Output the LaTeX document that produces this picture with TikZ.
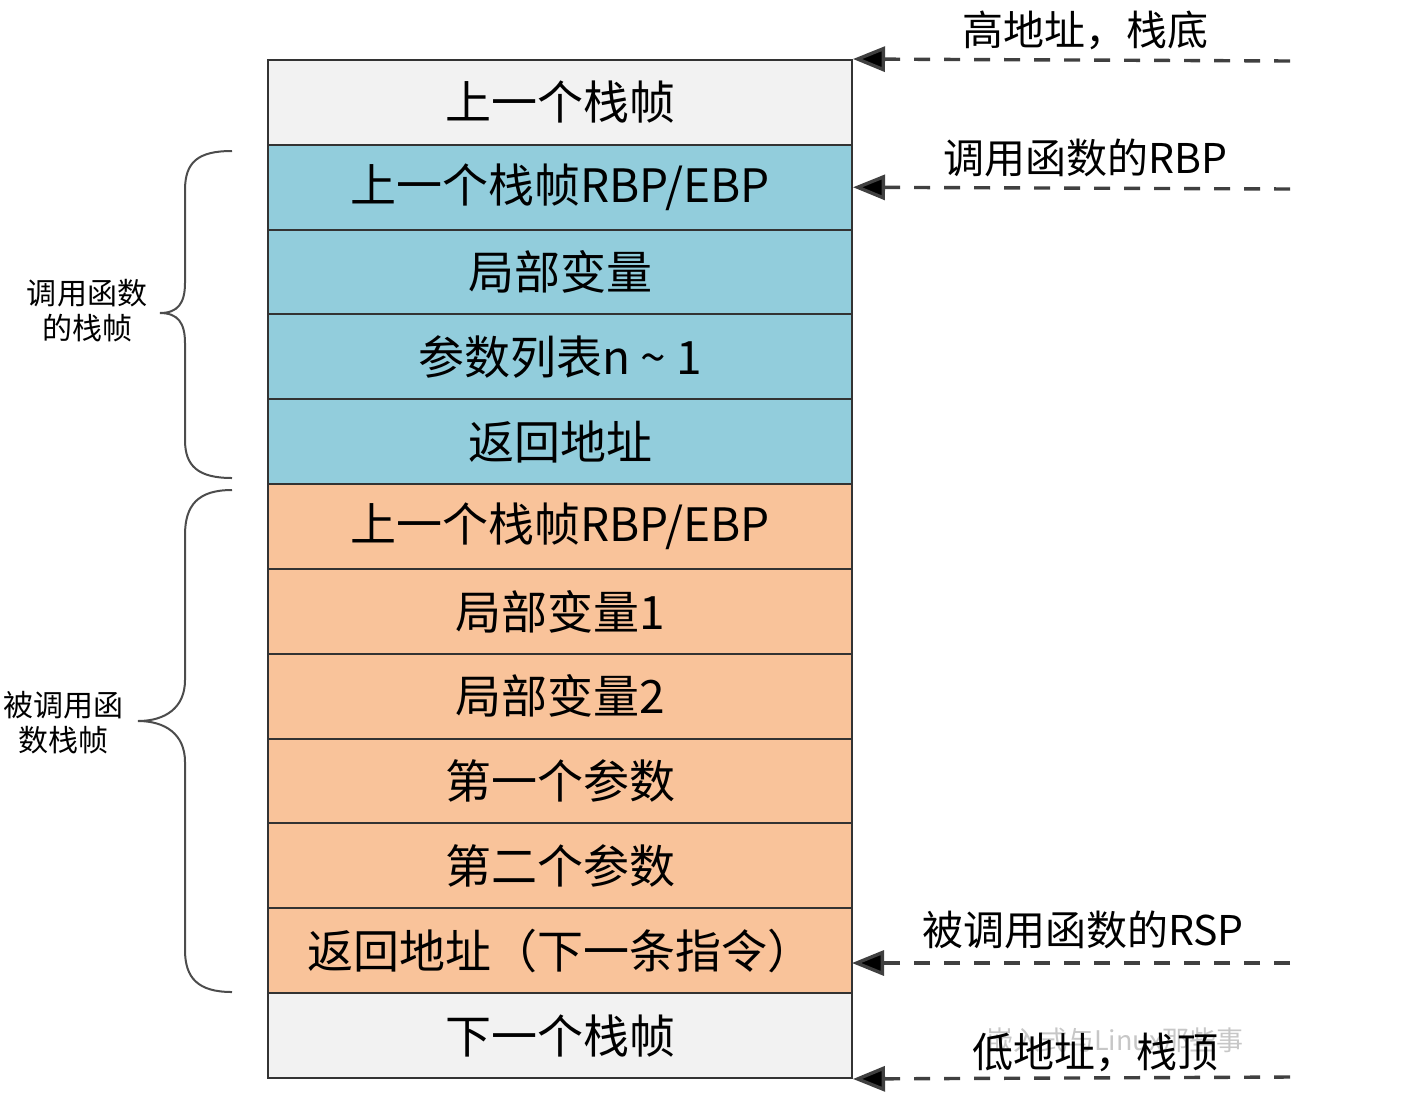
\documentclass[tikz,border=0pt]{standalone}
\usepackage{fontspec}
\setmainfont{Noto Sans CJK SC}
\usetikzlibrary{arrows.meta}
\definecolor{framegray}{HTML}{F2F2F2}
\definecolor{callerblue}{HTML}{92CDDC}
\definecolor{calleeorange}{HTML}{F9C39A}
\definecolor{edgecol}{HTML}{333333}
\begin{document}
\begin{tikzpicture}[x=1pt,y=-1pt,
  cell/.style={draw=edgecol,line width=2pt,minimum width=584pt,minimum height=84.83pt,
    inner sep=0pt,font=\fontsize{46pt}{50pt}\selectfont,text=black},
  sidelabel/.style={font=\fontsize{41pt}{45pt}\selectfont,text=black,inner sep=0pt},
  bracelabel/.style={font=\fontsize{30pt}{35pt}\selectfont,align=center,text=black,inner sep=0pt},
  pointer/.style={draw=black!75,line width=3.4pt,dash pattern=on 16pt off 14pt,
    -{Triangle[length=32pt,width=25pt,fill=black]}},
  bracestroke/.style={draw=black!70,line width=2pt}]
\useasboundingbox (0,0) rectangle (1404,1112);

% stack cells, top (high address) to bottom (low address)
\foreach \i/\fc/\txt in {
  1/framegray/{上一个栈帧},
  2/callerblue/{上一个栈帧RBP/EBP},
  3/callerblue/{局部变量},
  4/callerblue/{参数列表n \char`\~{} 1},
  5/callerblue/{返回地址},
  6/calleeorange/{上一个栈帧RBP/EBP},
  7/calleeorange/{局部变量1},
  8/calleeorange/{局部变量2},
  9/calleeorange/{第一个参数},
  10/calleeorange/{第二个参数},
  11/calleeorange/{返回地址（下一条指令）},
  12/framegray/{下一个栈帧}}
  \node[cell,fill=\fc] (r\i) at (560,{60+84.83*(\i-0.5)}) {\txt};

% watermark text
\node[font=\fontsize{27pt}{30pt}\selectfont,text=black!22,inner sep=0pt] (wm) at (1115,1040) {嵌入式与Linux那些事};

% address pointers on the right
\coordinate (p1) at (1290,61);
\coordinate (p2) at (1290,189);
\coordinate (p3) at (1290,963);
\coordinate (p4) at (1290,1077);
\coordinate (t3) at (852,963);
\draw[pointer] (p1) -- (r1.north east);
\draw[pointer] (p2) -- (r2.east);
\draw[pointer] (p3) -- (t3);
\draw[pointer] (p4) -- (r12.south east);

\node[sidelabel] (l1) at (1085,30) {高地址，栈底};
\node[sidelabel] (l2) at (1085,158) {调用函数的RBP};
\node[sidelabel] (l3) at (1083,930) {被调用函数的RSP};
\node[sidelabel] (l4) at (1095,1052) {低地址，栈顶};

% braces grouping the two frames
\draw[bracestroke] (232,151) .. controls (198,151) and (185,162) .. (185,190)
  -- (185,283) .. controls (185,303) and (178,313) .. (160,313)
  .. controls (178,313) and (185,323) .. (185,343)
  -- (185,440) .. controls (185,466) and (198,478) .. (232,478);
\draw[bracestroke] (232,490) .. controls (198,490) and (185,505) .. (185,535)
  -- (185,680) .. controls (185,708) and (165,721) .. (138,721)
  .. controls (165,721) and (185,734) .. (185,762)
  -- (185,950) .. controls (185,978) and (198,992) .. (232,992);

\node[bracelabel] (b1) at (87,311) {调用函数\\的栈帧};
\node[bracelabel] (b2) at (63,723) {被调用函\\数栈帧};
\end{tikzpicture}
\end{document}
